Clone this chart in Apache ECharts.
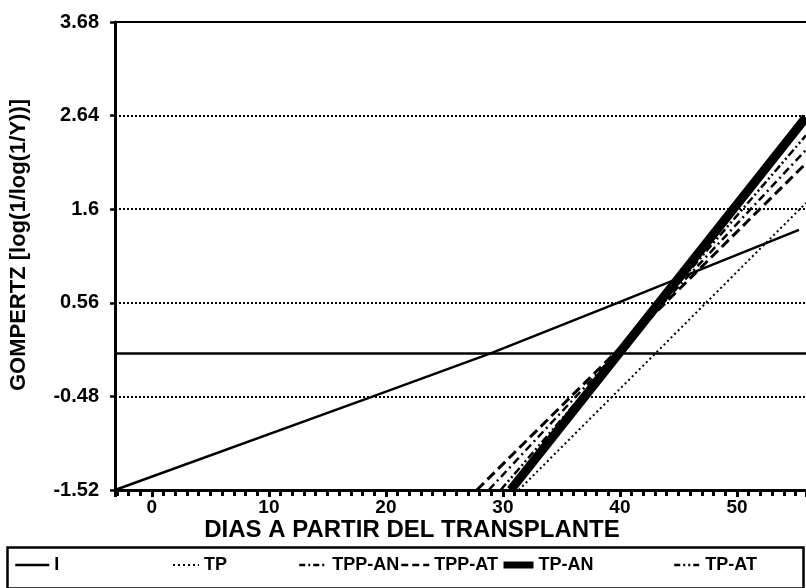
<!DOCTYPE html>
<html>
<head>
<meta charset="utf-8">
<script src="https://cdn.jsdelivr.net/npm/echarts@6/dist/echarts.min.js"></script>
<style>html,body{margin:0;padding:0;background:#fff}#c{width:806px;height:588px}</style>
</head>
<body>
<div id="c"></div>
<script>
// Tick labels
const xTicks = [0, 10, 20, 30, 40, 50];
const yTicks = [-1.52, -0.48, 0.56, 1.6, 2.64, 3.68];
// Series values [day, Gompertz value]
const serieI     = [[-3.15, -1.52], [18.9, -0.48], [29.0, 0], [39.8, 0.56], [55.3, 1.37]];
const serieTP    = [[31.35, -1.52], [55.9, 1.67]];
const serieTPPAN = [[28.79, -1.52], [55.9, 2.26]];
const serieTPPAT = [[27.77, -1.52], [55.9, 2.11]];
const serieTPAN  = [[30.66, -1.52], [55.9, 2.62]];
const serieTPAT  = [[29.81, -1.52], [55.9, 2.42]];

const FONT = 'Liberation Sans, Arial, sans-serif';
const chart = echarts.init(document.getElementById('c'), null, {renderer: 'canvas'});

function mkLine(name, data, width, type, z) {
  return {
    name: name, type: 'line', data: data, symbol: 'none', showSymbol: false,
    z: z, lineStyle: {color: '#000', width: width, type: type}, itemStyle: {color: '#000'},
    animation: false
  };
}

const legendPos = [
  {name: 'I', left: 14, w: 34, lw: 2.5, lt: 'solid'},
  {name: 'TP', left: 172, w: 26, lw: 2, lt: [2, 3]},
  {name: 'TPP-AN', left: 298, w: 28, lw: 2.5, lt: [6, 3, 2, 3]},
  {name: 'TPP-AT', left: 400, w: 28, lw: 2.5, lt: [7, 4]},
  {name: 'TP-AN', left: 500, w: 30, lw: 7, lt: 'solid'},
  {name: 'TP-AT', left: 673, w: 26, lw: 2.5, lt: [6, 3, 2, 3, 2, 3]}
];

const seriesI = mkLine('I', serieI, 2.5, 'solid', 5);
seriesI.markLine = {
  silent: true, symbol: 'none', label: {show: false},
  lineStyle: {color: '#000', width: 2.5, type: 'solid'},
  data: [{yAxis: 0}], animation: false
};

const option = {
  animation: false,
  backgroundColor: '#fff',
  grid: {left: 113, top: 22, right: 0, bottom: 98, containLabel: false},
  xAxis: [{
    type: 'value', min: -3.15, max: 55.9, splitNumber: 6, minInterval: 10, maxInterval: 10,
    position: 'bottom',
    axisLine: {show: true, onZero: false, lineStyle: {color: '#000', width: 3}},
    axisTick: {show: true, length: 7, lineStyle: {color: '#000', width: 3}},
    minorTick: {show: true, splitNumber: 10, length: 6, lineStyle: {color: '#000', width: 3}},
    splitLine: {show: false},
    axisLabel: {
      margin: 8, color: '#000', fontFamily: FONT, fontWeight: 'bold', fontSize: 19,
      showMinLabel: false, showMaxLabel: false,
      formatter: v => { const t = xTicks.find(t => Math.abs(t - v) < 1e-6); return t === undefined ? '' : String(t); }
    },
    name: 'DIAS A PARTIR DEL TRANSPLANTE', nameLocation: 'middle', nameGap: 28,
    nameMoveOverlap: false,
    nameTextStyle: {color: '#000', fontFamily: FONT, fontWeight: 'bold', fontSize: 24, padding: [0, 97, 0, 0]}
  }, {
    type: 'value', min: -3.15, max: 55.9, position: 'top',
    axisLine: {show: true, onZero: false, lineStyle: {color: '#000', width: 2}},
    axisTick: {show: false}, axisLabel: {show: false}, splitLine: {show: false}
  }],
  yAxis: {
    type: 'value', min: -1.52, max: 3.68, interval: 1.04,
    axisLine: {show: true, onZero: false, lineStyle: {color: '#000', width: 3}},
    axisTick: {show: true, length: 5, lineStyle: {color: '#000', width: 2.5}},
    splitLine: {show: true, lineStyle: {color: '#000', width: 2, type: [2, 2]}},
    axisLabel: {
      margin: 16, color: '#000', fontFamily: FONT, fontWeight: 'bold', fontSize: 20,
      formatter: v => { const t = yTicks.find(t => Math.abs(t - v) < 1e-6); return t === undefined ? '' : String(t); }
    },
    name: 'GOMPERTZ [log(1/log(1/Y))]', nameLocation: 'middle', nameGap: 85,
    nameMoveOverlap: false,
    nameTextStyle: {color: '#000', fontFamily: FONT, fontWeight: 'bold', fontSize: 22, padding: [0, 0, 0, 22]}
  },
  legend: legendPos.map(p => ({
    data: [p.name], left: p.left, top: 556, itemWidth: p.w, itemHeight: 14, padding: 0,
    selectedMode: false,
    itemStyle: {opacity: 0, borderWidth: 0},
    lineStyle: {width: p.lw, type: p.lt, color: '#000'},
    textStyle: {color: '#000', fontFamily: FONT, fontWeight: 'bold', fontSize: 18}
  })),
  graphic: [{
    type: 'rect', left: 5, top: 545, silent: true,
    shape: {x: 0, y: 0, width: 796, height: 41},
    style: {fill: 'none', stroke: '#000', lineWidth: 2.5}
  }],
  series: [
    mkLine('TP-AN', serieTPAN, 9, 'solid', 2),
    seriesI,
    mkLine('TP', serieTP, 2, [2, 3], 3),
    mkLine('TPP-AN', serieTPPAN, 2.5, [8, 4, 2, 4], 4),
    mkLine('TPP-AT', serieTPPAT, 3, [10, 5], 4),
    mkLine('TP-AT', serieTPAT, 2.5, [8, 3, 2, 3, 2, 3], 4)
  ]
};
chart.setOption(option);
</script>
</body>
</html>
